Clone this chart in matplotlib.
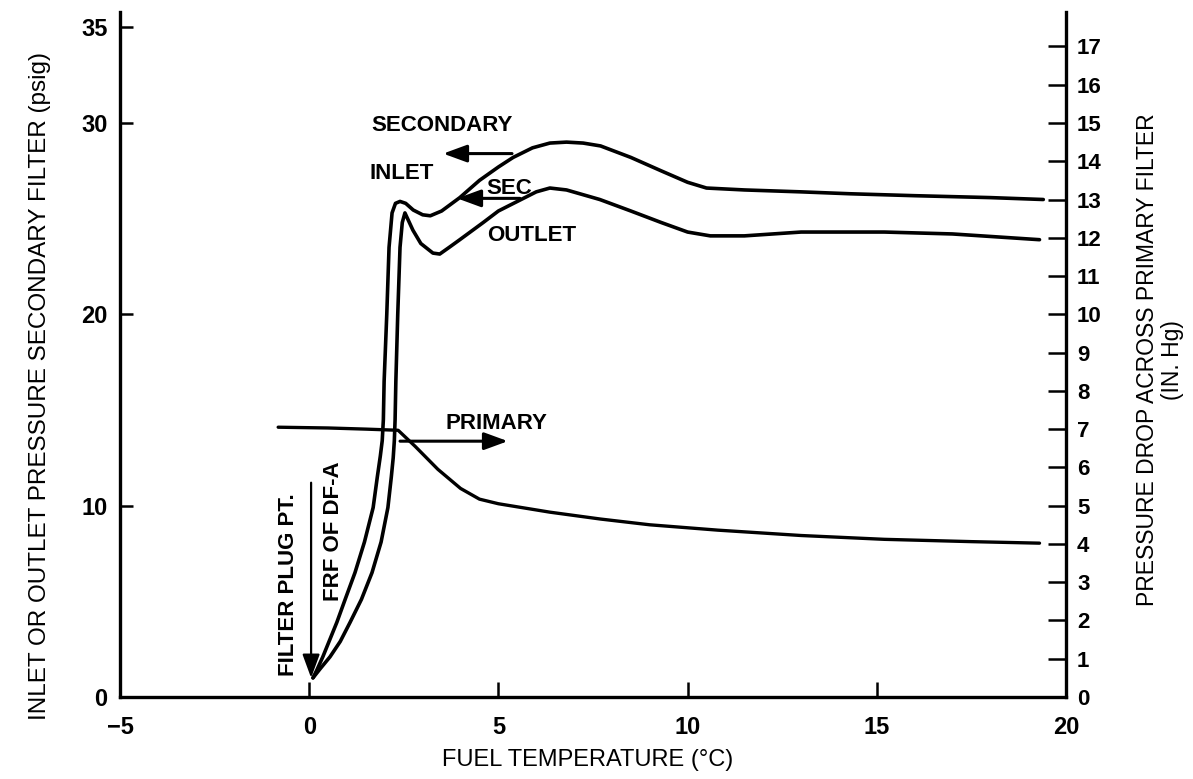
import numpy as np
import matplotlib
matplotlib.use("Agg")
import matplotlib.pyplot as plt

# font simile helvetica, numeri in grassetto
plt.rcParams['font.family'] = ['Liberation Sans', 'DejaVu Sans']
plt.rcParams['font.weight'] = 'bold'
plt.rcParams['font.size'] = 16

### DATI

# secondary filter, inlet pressure (psig)
tempInlet = [0.1, 0.2, 0.36, 0.73, 0.95, 1.21, 1.46, 1.69, 1.80, 1.88, 1.93, 1.96, 1.98, 2.05,
             2.11, 2.19, 2.28, 2.40, 2.55, 2.75, 3.0, 3.2, 3.5, 3.98, 4.5, 5.0, 5.39, 5.9, 6.36,
             6.8, 7.24, 7.7, 8.5, 9.3, 10.0, 10.5, 11.5, 13.0, 14.3, 16.0, 18.0, 19.4]
pressInlet = [1.0, 1.4, 2.1, 3.9, 5.1, 6.5, 8.1, 9.9, 11.5, 12.6, 13.4, 14.5, 16.5, 20.0,
              23.5, 25.3, 25.8, 25.9, 25.8, 25.45, 25.2, 25.15, 25.4, 26.1, 27.0, 27.7, 28.2,
              28.7, 28.95, 29.0, 28.95, 28.8, 28.2, 27.5, 26.9, 26.6, 26.5, 26.4, 26.3, 26.2,
              26.1, 26.0]

# secondary filter, outlet pressure (psig)
tempOutlet = [0.1, 0.3, 0.55, 0.82, 1.08, 1.38, 1.66, 1.9, 2.08, 2.17, 2.22, 2.25, 2.27, 2.29,
              2.34, 2.40, 2.46, 2.53, 2.6, 2.74, 2.95, 3.27, 3.45, 3.7, 3.98, 4.6, 5.0, 5.5,
              6.0, 6.36, 6.8, 7.68, 8.5, 9.3, 10.0, 10.6, 11.5, 13.0, 15.2, 17.0, 19.3]
pressOutlet = [1.0, 1.5, 2.1, 2.9, 3.9, 5.1, 6.5, 8.1, 9.9, 11.5, 12.5, 13.4, 14.5, 16.5,
               20.0, 23.5, 24.8, 25.3, 25.0, 24.4, 23.7, 23.2, 23.15, 23.5, 23.9, 24.8, 25.4,
               25.9, 26.4, 26.6, 26.5, 26.0, 25.4, 24.8, 24.3, 24.1, 24.1, 24.3, 24.3, 24.2, 23.9]

# primary filter pressure drop (IN. Hg) -> asse destro
tempPrimary = [-0.82, 0.5, 1.5, 2.35, 2.8, 3.4, 4.0, 4.5, 5.0, 6.36, 7.7, 9.0, 10.8, 13.0,
               15.2, 17.5, 19.3]
dropPrimary = [7.05, 7.03, 7.0, 6.97, 6.55, 5.95, 5.45, 5.17, 5.05, 4.83, 4.65, 4.5, 4.36,
               4.22, 4.12, 4.06, 4.02]

xTicks = [-5, 0, 5, 10, 15, 20]
yTicksLeft = [0, 10, 20, 30, 35]
yTicksRight = list(range(0, 18))

### FIGURA
W, H = 1193, 779
fig = plt.figure(figsize=(W / 100, H / 100), dpi=100)
ax = fig.add_axes([120 / W, 82 / H, 946 / W, 685 / H])
ax2 = ax.twinx()

stileLinea = dict(color='black', solid_capstyle='round', solid_joinstyle='round')
ax.plot(tempInlet, pressInlet, lw=2.6, **stileLinea)
ax.plot(tempOutlet, pressOutlet, lw=2.6, **stileLinea)
ax2.plot(tempPrimary, dropPrimary, lw=2.4, **stileLinea)

ax.set_xlim(-5, 20)
ax.set_ylim(0, 35.8)
ax2.set_ylim(0, 35.8 / 2)

ax.set_xticks(xTicks)
ax.set_yticks(yTicksLeft)
ax2.set_yticks(yTicksRight)

for a in (ax, ax2):
    a.spines['top'].set_visible(False)
    for s in a.spines.values():
        s.set_linewidth(2.4)
ax.spines['right'].set_visible(False)
ax2.spines['left'].set_visible(False)
ax2.spines['bottom'].set_visible(False)

ax.tick_params(axis='x', direction='in', length=11, width=1.8, pad=14, labelsize=17)
ax.tick_params(axis='y', direction='in', length=9, width=1.8, pad=9, labelsize=17)
ax2.tick_params(axis='y', direction='in', length=13, width=1.8, pad=8, labelsize=16)

# etichette assi (non grassetto)
fig.text(40 / W, 1 - 386 / H, 'INLET OR OUTLET PRESSURE SECONDARY FILTER (psig)', rotation=90,
         ha='center', va='center', fontsize=17.5, weight='normal')
fig.text(1160 / W, 1 - 360 / H, 'PRESSURE DROP ACROSS PRIMARY FILTER\n(IN. Hg)', rotation=90,
         ha='center', va='center', fontsize=16.5, weight='normal', multialignment='center',
         linespacing=1.1)
fig.text(588 / W, 1 - 760 / H, 'FUEL TEMPERATURE (°C)', ha='center', va='center', fontsize=17,
         weight='normal')

# scritte e frecce dentro il grafico
ax.text(3.51, 29.87, 'SECONDARY', ha='center', va='center')
ax.text(2.45, 27.35, 'INLET', ha='center', va='center')
ax.text(5.28, 26.6, 'SEC', ha='center', va='center')
ax.text(5.89, 24.1, 'OUTLET', ha='center', va='center')
ax.text(4.96, 14.3, 'PRIMARY', ha='center', va='center')
ax.text(-0.56, 5.85, 'FILTER PLUG PT.', rotation=90, ha='center', va='center')
ax.text(0.63, 8.67, 'FRF OF DF-A', rotation=90, ha='center', va='center')

freccia = dict(arrowstyle='-|>,head_length=0.6,head_width=0.22', color='black', lw=2.2,
               mutation_scale=24, shrinkA=0, shrinkB=0)
ax.annotate('', xy=(3.54, 28.4), xytext=(5.36, 28.4), arrowprops=freccia)
ax.annotate('', xy=(3.91, 26.06), xytext=(5.57, 26.06), arrowprops=freccia)
ax.annotate('', xy=(5.25, 13.37), xytext=(2.4, 13.37), arrowprops=freccia)
ax.annotate('', xy=(0.05, 1.0), xytext=(0.05, 11.2),
            arrowprops=dict(freccia, lw=1.6))

fig.savefig('out.png', dpi=100)
